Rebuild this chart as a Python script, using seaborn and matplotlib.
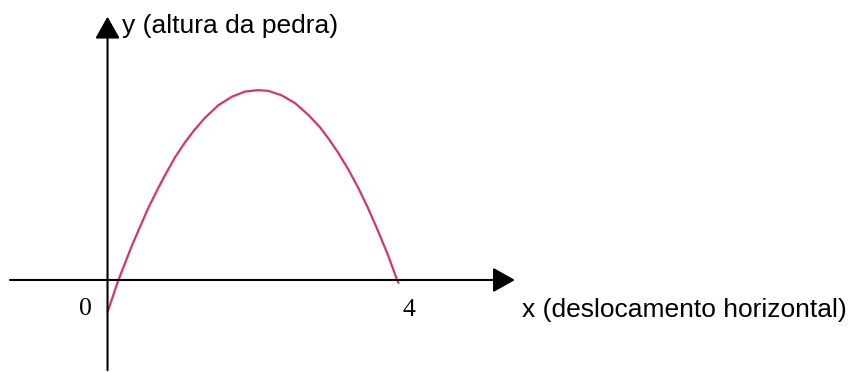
import matplotlib
matplotlib.use("Agg")
import matplotlib.pyplot as plt
import seaborn as sns
import pandas as pd

# trajectory of the stone (x: horizontal, y: height)
desloc = [0.00, 0.15, 0.24, 0.33, 0.42, 0.56, 0.70, 0.79, 0.93, 1.07,
          1.20, 1.34, 1.52, 1.71, 1.89, 2.07, 2.21, 2.39, 2.58, 2.76,
          2.92, 3.04, 3.17, 3.31, 3.45, 3.58, 3.72, 3.86, 3.98, 4.00]
altura = [-0.44, 0.00, 0.23, 0.46, 0.67, 0.99, 1.27, 1.44, 1.69, 1.90,
          2.07, 2.23, 2.40, 2.52, 2.59, 2.61, 2.60, 2.54, 2.43, 2.27,
          2.10, 1.94, 1.75, 1.52, 1.26, 0.99, 0.67, 0.33, 0.00, -0.04]

tick_labels = ["0", "4"]
tick_pos = [0, 4]
x_label = "x (deslocamento horizontal)"
y_label = "y (altura da pedra)"

df = pd.DataFrame({"x": desloc, "y": altura})

sns.set_style("white")
plt.rcParams["font.family"] = ["Liberation Sans", "DejaVu Sans"]
plt.rcParams["text.color"] = "black"

fig = plt.figure(figsize=(8.5, 3.72), dpi=100)
ax = fig.add_axes([0, 0, 1, 1])
ax.set_xlim(-1.478, 10.206)
ax.set_ylim(-1.265, 3.849)
ax.axis("off")

# axes with arrows
arrow = dict(arrowstyle="-|>,head_length=13.5,head_width=7.6",
             color="black", lw=1.5, shrinkA=0, shrinkB=0, mutation_scale=1)
ax.annotate("", xy=(5.60, 0), xytext=(-1.34, 0), arrowprops=arrow)
ax.annotate("", xy=(0, 3.62), xytext=(0, -1.24), arrowprops=arrow)

sns.lineplot(data=df, x="x", y="y", sort=False, estimator=None,
             color="#d8346c", linewidth=1.6, ax=ax)

# tick numbers (serif, like the original)
serif = ["Liberation Serif", "DejaVu Serif"]
ax.text(-0.31, -0.488, tick_labels[0], ha="center", va="baseline",
        fontsize=18.5, family=serif, color="black")
ax.text(tick_pos[1] + 0.137, -0.495, tick_labels[1], ha="center", va="baseline",
        fontsize=18.5, family=serif, color="black")

ax.text(5.70, -0.509, x_label, ha="left", va="baseline", fontsize=19, color="black")
ax.text(0.20, 3.395, y_label, ha="left", va="baseline", fontsize=19, color="black")

fig.savefig("out.png", dpi=100, facecolor="white")
